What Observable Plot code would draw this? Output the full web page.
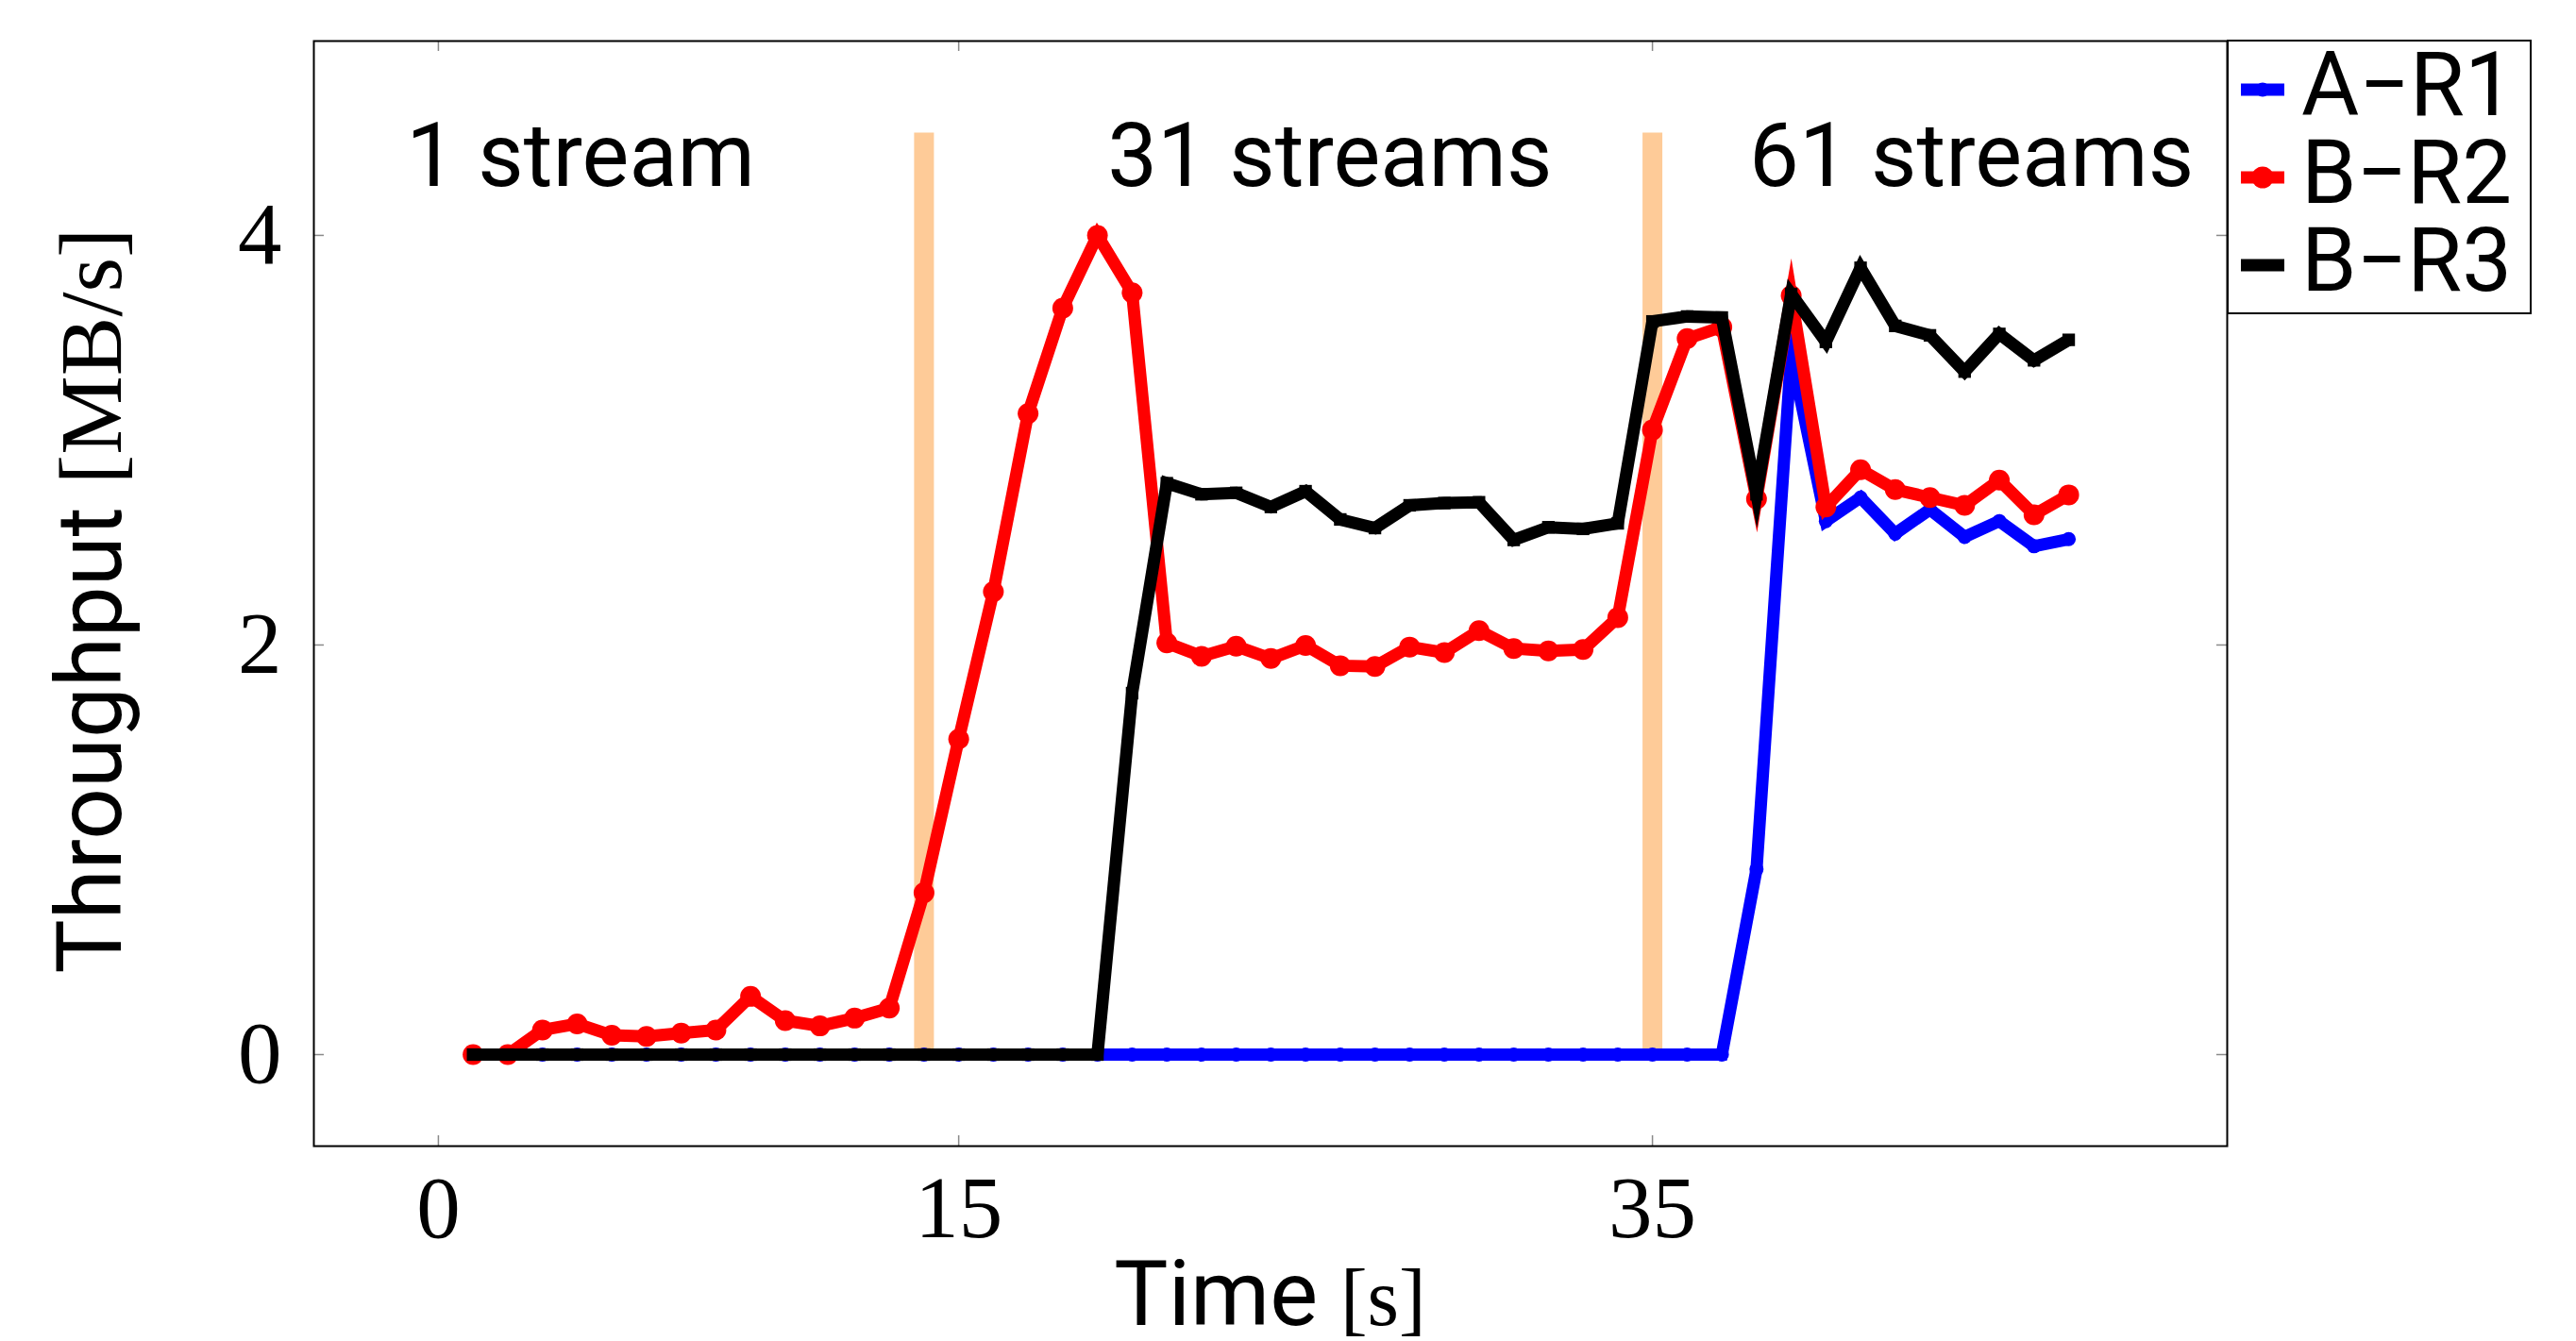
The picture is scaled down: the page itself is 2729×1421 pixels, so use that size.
<!DOCTYPE html>
<html>
<head>
<meta charset="utf-8">
<script src="https://cdn.jsdelivr.net/npm/d3@7"></script>
<script src="https://cdn.jsdelivr.net/npm/@observablehq/plot@0.6"></script>
<style>
  body { margin: 0; background: #fff; }
  #chart svg { display: block; }
</style>
</head>
<body>
<div id="chart"></div>
<script>
// ---- data ----
const time = [1,2,3,4,5,6,7,8,9,10,11,12,13,14,15,16,17,18,19,20,21,22,23,24,25,26,27,28,29,30,31,32,33,34,35,36,37,38,39,40,41,42,43,44,45,46,47];

const seriesNames = ["A\u2212R1", "B\u2212R2", "B\u2212R3"];
const seriesColors = ["#0000ff", "#ff0000", "#000000"];

const aR1 = [0,0,0,0,0,0,0,0,0,0,0,0,0,0,0,0,0,0,0,0,0,0,0,0,0,0,0,0,0,0,0,0,0,0,0,0,0,
             0.905,3.42,2.605,2.72,2.544,2.662,2.528,2.605,2.482,2.517];

const bR2 = [0,0,0.12,0.15,0.094,0.089,0.105,0.12,0.284,0.166,0.14,0.178,0.227,
             0.79,1.54,2.26,3.13,3.645,4.0,3.72,2.01,1.945,1.994,1.934,1.998,1.899,1.895,
             1.99,1.963,2.07,1.983,1.971,1.978,2.134,3.05,3.496,3.553,2.713,3.706,2.674,
             2.856,2.759,2.72,2.682,2.805,2.636,2.733];

const bR3 = [0,0,0,0,0,0,0,0,0,0,0,0,0,0,0,0,0,0,0,
             1.765,2.79,2.736,2.743,2.674,2.751,2.613,2.571,2.682,2.693,2.697,2.513,2.575,
             2.567,2.594,3.58,3.604,3.599,2.736,3.714,3.48,3.842,3.558,3.512,3.335,3.519,
             3.39,3.49];

const xTicks = [0, 15, 35];
const yTicks = [0, 2, 4];

const phaseTimes = [14, 35];
const phaseTop = 4.5;

const phaseLabels = ["1 stream", "31 streams", "61 streams"];
const phaseLabelX = [4.1, 25.7, 44.2];
const phaseLabelY = 4.24;

// ---- layout ----
const W = 2729, H = 1421;
const mL = 332, mR = 370, mT = 43, mB = 207;
const fW = W - mL - mR, fH = H - mT - mB;
const tickLen = 11;

const rows = (vals) => time.map((t, i) => ({t, v: vals[i]}));
const A = rows(aR1), B = rows(bR2), C = rows(bR3);
const labelRows = phaseLabels.map((s, i) => ({s, x: phaseLabelX[i], y: phaseLabelY}));

const lineOpts = {x: "t", y: "v", strokeWidth: 13, strokeLinejoin: "miter", strokeMiterlimit: 10, strokeLinecap: "butt"};
const tickStyle = {stroke: "#8a8a8a", strokeWidth: 1.5};
const fmt = d => String(d);

const chart = Plot.plot({
  width: W, height: H,
  marginLeft: mL, marginRight: mR, marginTop: mT, marginBottom: mB,
  x: {domain: [-3.59, 51.57], label: null},
  y: {domain: [-0.447, 4.949], label: null},
  style: {background: "white", overflow: "visible"},
  marks: [
    Plot.ruleX(phaseTimes, {x: d => d, y1: 0, y2: phaseTop, stroke: "#fecb98", strokeWidth: 21}),
    Plot.line(A, {...lineOpts, stroke: seriesColors[0]}),
    Plot.dot(A, {x: "t", y: "v", r: 7.5, fill: seriesColors[0]}),
    Plot.line(B, {...lineOpts, stroke: seriesColors[1]}),
    Plot.dot(B, {x: "t", y: "v", r: 11, fill: seriesColors[1]}),
    Plot.line(C, {...lineOpts, stroke: seriesColors[2]}),
    Plot.dot(C, {x: "t", y: "v", r: 7.5, symbol: "square", fill: seriesColors[2]}),
    Plot.text(labelRows, {x: "x", y: "y", text: "s", fontSize: 94, fontFamily: "Roboto",
      lineAnchor: "bottom", textAnchor: "middle", fill: "#000"}),
    // inward ticks on all four sides
    Plot.ruleX(xTicks, {x: d => d, insetTop: fH - tickLen, ...tickStyle}),
    Plot.ruleX(xTicks, {x: d => d, insetBottom: fH - tickLen, ...tickStyle}),
    Plot.ruleY(yTicks, {y: d => d, insetRight: fW - tickLen, ...tickStyle}),
    Plot.ruleY(yTicks, {y: d => d, insetLeft: fW - tickLen, ...tickStyle}),
    Plot.frame({stroke: "#000", strokeWidth: 2}),
    Plot.axisX(xTicks, {anchor: "bottom", tickSize: 0, tickPadding: 30, fontSize: 93,
      fontFamily: "Liberation Serif", label: null, tickFormat: fmt}),
    Plot.axisY(yTicks, {anchor: "left", tickSize: 0, tickPadding: 34, fontSize: 93,
      fontFamily: "Liberation Serif", label: null, tickFormat: fmt})
  ]
});

document.getElementById("chart").appendChild(chart);

// ---- axis titles (mixed fonts) ----
const svg = d3.select(chart);
const xt = svg.append("text")
  .attr("x", mL + fW / 2).attr("y", H - 17)
  .attr("text-anchor", "middle").attr("fill", "#000");
xt.append("tspan").attr("font-family", "Roboto").attr("font-size", 96).text("Time ");
xt.append("tspan").attr("font-family", "Liberation Serif").attr("font-size", 86).text("[s]");

const yt = svg.append("text")
  .attr("transform", `translate(128, ${mT + fH / 2 + 8}) rotate(-90)`)
  .attr("text-anchor", "middle").attr("fill", "#000");
yt.append("tspan").attr("font-family", "Roboto").attr("font-size", 96).text("Throughput ");
yt.append("tspan").attr("font-family", "Liberation Serif").attr("font-size", 94).text("[MB/s]");

// ---- legend (outside plot frame, to the right) ----
const lg = svg.append("g").attr("text-anchor", "start");
const lx = W - mR + 1, ly = mT, lw = 321, lh = 289;
lg.append("rect").attr("x", lx).attr("y", ly).attr("width", lw).attr("height", lh)
  .attr("fill", "white").attr("stroke", "#000").attr("stroke-width", 2);
seriesNames.forEach((name, i) => {
  const cy = ly + 52 + i * 93;
  const x0 = lx + 14, x1 = lx + 60;
  lg.append("line").attr("x1", x0).attr("x2", x1).attr("y1", cy).attr("y2", cy)
    .attr("stroke", seriesColors[i]).attr("stroke-width", 13);
  if (i === 0) lg.append("circle").attr("cx", (x0 + x1) / 2).attr("cy", cy).attr("r", 7.5).attr("fill", seriesColors[i]);
  if (i === 1) lg.append("circle").attr("cx", (x0 + x1) / 2).attr("cy", cy).attr("r", 11.5).attr("fill", seriesColors[i]);
  lg.append("text").attr("x", lx + 78).attr("y", cy + 27).attr("text-anchor", "start")
    .attr("font-family", "Roboto").attr("font-size", 94).attr("fill", "#000").text(name);
});
</script>
</body>
</html>
